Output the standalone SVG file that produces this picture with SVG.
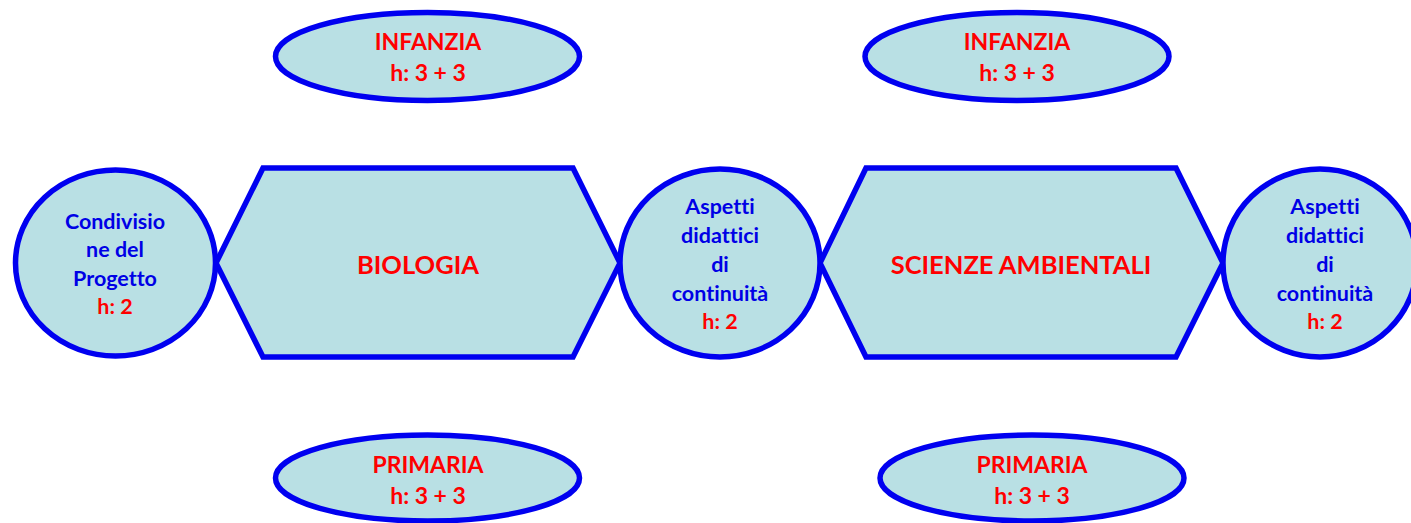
<svg xmlns="http://www.w3.org/2000/svg" width="1411" height="523" viewBox="0 0 1411 523">
<style>
.s{fill:#B9E0E4;stroke:#0000F0;stroke-width:5.5}
.t{font-family:Lato,"Liberation Sans",sans-serif;font-weight:bold;text-anchor:middle;font-variant-ligatures:none}
.b{fill:#0000E6;font-size:21.5px}
.r{fill:#FF0000}
.rs{font-size:21.5px}
.e{font-size:23px}
.h{font-size:25.5px}
</style>
<rect width="1411" height="523" fill="#FFFFFF"/>
<g id="connectors"></g>
<g id="infanzia1">
<ellipse class="s" cx="427.5" cy="56.5" rx="152" ry="44"/>
<text class="t r e" x="428" y="50">INFANZIA</text>
<text class="t r e" x="428" y="81">h: 3 + 3</text>
</g>
<g id="infanzia2">
<ellipse class="s" cx="1017" cy="56.5" rx="152" ry="44"/>
<text class="t r e" x="1017" y="50">INFANZIA</text>
<text class="t r e" x="1017" y="81">h: 3 + 3</text>
</g>
<g id="primaria1">
<ellipse class="s" cx="427.5" cy="478" rx="152" ry="43"/>
<text class="t r e" x="428" y="473">PRIMARIA</text>
<text class="t r e" x="428" y="504">h: 3 + 3</text>
</g>
<g id="primaria2">
<ellipse class="s" cx="1032" cy="478" rx="152" ry="43"/>
<text class="t r e" x="1032" y="473">PRIMARIA</text>
<text class="t r e" x="1032" y="504">h: 3 + 3</text>
</g>
<g id="biologia">
<polygon class="s" points="263,168 573,168 620,263 573,357 263,357 216,263"/>
<text class="t r h" x="418" y="274">BIOLOGIA</text>
</g>
<g id="scienze">
<polygon class="s" points="866,168 1176,168 1223,263 1176,357 866,357 820,263"/>
<text class="t r h" x="1021" y="274">SCIENZE AMBIENTALI</text>
</g>
<g id="condivisione">
<ellipse class="s" cx="115.5" cy="263" rx="100" ry="93"/>
<text class="t b" x="115" y="229">Condivisio</text>
<text class="t b" x="115" y="257">ne del</text>
<text class="t b" x="115" y="286">Progetto</text>
<text class="t r rs" x="115" y="314">h: 2</text>
</g>
<g id="aspetti1">
<ellipse class="s" cx="720" cy="263" rx="100" ry="94"/>
<text class="t b" x="720" y="214">Aspetti</text>
<text class="t b" x="720" y="243">didattici</text>
<text class="t b" x="720" y="272">di</text>
<text class="t b" x="720" y="301">continuità</text>
<text class="t r rs" x="720" y="329">h: 2</text>
</g>
<g id="aspetti2">
<ellipse class="s" cx="1320" cy="263" rx="97" ry="94"/>
<text class="t b" x="1325" y="214">Aspetti</text>
<text class="t b" x="1325" y="243">didattici</text>
<text class="t b" x="1325" y="272">di</text>
<text class="t b" x="1325" y="301">continuità</text>
<text class="t r rs" x="1325" y="329">h: 2</text>
</g>
</svg>
